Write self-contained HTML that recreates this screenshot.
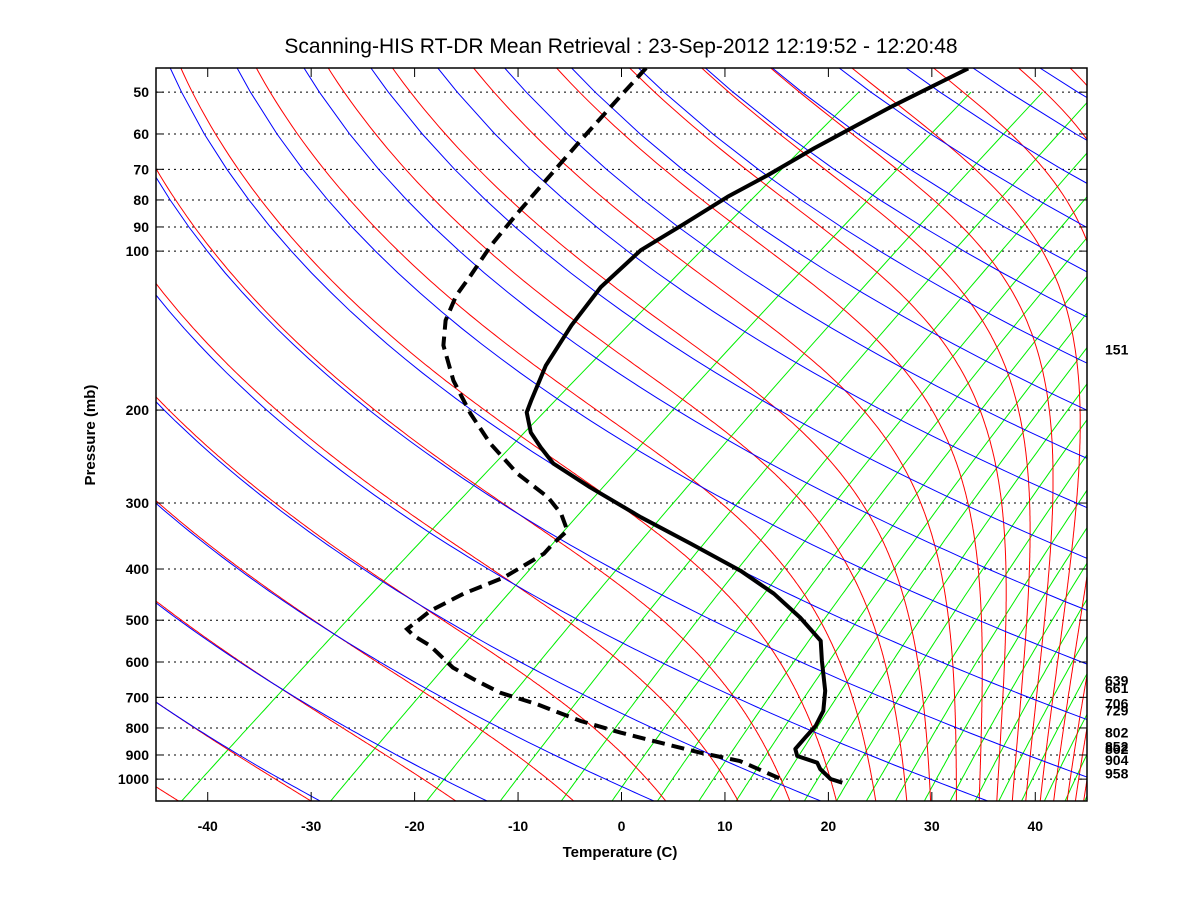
<!DOCTYPE html>
<html><head><meta charset="utf-8"><style>
body{margin:0;background:#fff;}
svg text{font-family:"Liberation Sans",sans-serif;}
</style></head><body>
<svg id="chart" width="1200" height="900" xmlns="http://www.w3.org/2000/svg">
<rect x="0" y="0" width="1200" height="900" fill="#fff"/>
<text x="621" y="53" font-size="21" text-anchor="middle" fill="#000">Scanning-HIS RT-DR Mean Retrieval : 23-Sep-2012 12:19:52 - 12:20:48</text>
<text x="620" y="857" font-size="15" font-weight="bold" text-anchor="middle">Temperature (C)</text>
<text transform="translate(95,435) rotate(-90)" font-size="15" font-weight="bold" text-anchor="middle">Pressure (mb)</text>
<defs><clipPath id="plotclip"><rect x="156" y="68" width="931" height="733"/></clipPath></defs>
<g id="grid"></g>
<g id="lines" clip-path="url(#plotclip)"></g>
<g id="sound" clip-path="url(#plotclip)"></g>
<g id="axes"></g>
</svg>
<script>
// ---- data ----
const pressureTicks=[50,60,70,80,90,100,200,300,400,500,600,700,800,900,1000];
const tempTicks=[-40,-30,-20,-10,0,10,20,30,40];
const dryThetas=[224.5,240.2,255.9,271.6,287.3,303,318.7,334.4,350.1,365.8,381.5,397.2,412.9,428.6,444.3,460,475.7,491.4,507.1,522.8,538.5,554.2];
const moistStartT=[-40,-27.2,-13.2,-1.8,7.1,14.1,19.1,23.6,27.4,30.4,32.7,35.2,37.4,39.1,40.6,41.9,43.3,44.6,45.9,46.7,47.5,48.3,49.1];
const mixStartT=[-39.7,-25.3,-16.0,-8.9,-3.0,1.9,6.3,10.3,13.9,17.2,20.5,23.6,26.5,29.3,32.1,34.6,37.0,39.3,41.5,43.7,45.7,47.6];
const tempP=[45.1,53.3,63.8,71.8,78.9,88.9,99.6,117,138.2,164.6,191.8,202,220.6,235.5,252.6,280.1,319.3,358.1,402.9,445.5,494.1,547,596.9,680.4,742.6,793,834.3,876.6,904,930.8,956.8,999.5,1015.6];
const tempT=[-58.2,-60.7,-62.8,-63.8,-64.9,-65.6,-66.4,-65.5,-63.4,-60.7,-57.6,-56.5,-53.5,-50.6,-47.3,-40.7,-31.9,-23.7,-15.4,-9.2,-3.6,1.4,4.1,8.3,10.7,11.9,12.4,12.9,14.0,16.8,17.9,20.2,21.8];
const dewP=[45,50.6,61.6,73.4,85.5,97.5,111.1,121.3,135.3,150.8,175.8,203,231.4,263.8,292.5,314.2,338.4,358.1,374.1,415,445.5,479.9,519.8,535,559,614.8,645.8,685.8,721.5,775.8,816.4,852.8,891,923.9,1008];
const dewT=[-89.4,-88.3,-86.4,-84.6,-83.0,-81.5,-79.6,-78.4,-76.2,-73.2,-67.7,-61.8,-56.0,-49.5,-43.5,-40.1,-37.3,-37.0,-36.6,-37.4,-39.2,-40.2,-40.1,-38.6,-35.7,-30.7,-27.3,-22.9,-17.8,-11.5,-6.1,-1.0,4.2,9.1,16.1];
const levelLabels=[151,639,661,706,729,802,852,862,904,958];
// ---- axes ----
const L=156,R=1087,T0=68,B=801,PTOP=45,PBOT=1100;
function Y(p){return T0+(B-T0)*Math.log(p/PTOP)/Math.log(PBOT/PTOP);}
function XS(t){return L+(t+45)*(R-L)/90;}
const SKEW=1.335;
function X(t,p){return XS(t)+SKEW*(Y(1000)-Y(p));}
const NS="http://www.w3.org/2000/svg";
function mk(tag,attrs,parent){const e=document.createElementNS(NS,tag);for(const k in attrs)e.setAttribute(k,attrs[k]);parent.appendChild(e);return e;}
const grid=document.getElementById('grid'),lines=document.getElementById('lines'),sound=document.getElementById('sound'),axes=document.getElementById('axes');
function pathFrom(pts){return pts.map((q,i)=>(i?'L':'M')+q[0].toFixed(1)+','+q[1].toFixed(1)).join('');}
// mixing ratio lines
const eps=0.622;
function es(tc){return 6.112*Math.exp(17.67*tc/(tc+243.5));}
mixStartT.forEach((t0,i)=>{
  const e0=es(t0), w=eps*e0/(PBOT-e0);
  const pts=[];
  for(let p=PBOT;p>=PTOP;p-=10){const e=w*p/(eps+w);const l=Math.log(e/6.112);const tc=243.5*l/(17.67-l);pts.push([X(tc,p),Y(p)]);}
  const el=mk('path',{d:pathFrom(pts),fill:'none',stroke:'#00ee00','stroke-width':1},lines);
  
  
});
// moist adiabats
const Rd=287.04,cp=1005.7,Lv=2.501e6;
function dTdp(Tk,p){const e=es(Tk-273.15);const rs=eps*e/(p-e);return (Rd*Tk+Lv*rs)/(p*(cp+Lv*Lv*rs*eps/(Rd*Tk*Tk)));}
moistStartT.forEach(t0=>{
  let Tk=t0+273.15,p=PBOT;const pts=[[X(t0,p),Y(p)]];const dp=-2;
  while(p>PTOP){const k1=dTdp(Tk,p);const k2=dTdp(Tk+k1*dp/2,p+dp/2);Tk+=k2*dp;p+=dp;pts.push([X(Tk-273.15,p),Y(p)]);}
  const el=mk('path',{d:pathFrom(pts),fill:'none',stroke:'#ff0000','stroke-width':1},lines);
  
  
});
// dry adiabats
dryThetas.forEach(th=>{
  const pts=[];
  for(let p=PBOT;p>=PTOP;p-=10){const tk=th*Math.pow(p/1000,0.286);pts.push([X(tk-273.15,p),Y(p)]);}
  pts.push([X(th*Math.pow(PTOP/1000,0.286)-273.15,PTOP),Y(PTOP)]);
  const el=mk('path',{d:pathFrom(pts),fill:'none',stroke:'#0000ff','stroke-width':1},lines);
  
  
});
// pressure grid + ticks
pressureTicks.forEach(p=>{
  const y=Y(p);
  const g=mk('line',{x1:L,x2:R,y1:y,y2:y,stroke:'#000','stroke-width':1,'stroke-dasharray':'2,4'},grid);
  
  
  mk('line',{x1:L,x2:L+8,y1:y,y2:y,stroke:'#000'},axes);
  mk('line',{x1:R-8,x2:R,y1:y,y2:y,stroke:'#000'},axes);
  const t=mk('text',{x:L-7,y:y+5,'font-size':14,'font-weight':'bold','text-anchor':'end'},axes);
  t.textContent=p;
  
  
});
tempTicks.forEach(v=>{
  const x=XS(v);
  mk('line',{x1:x,x2:x,y1:B,y2:B-9,stroke:'#000'},axes);
  mk('line',{x1:x,x2:x,y1:T0,y2:T0+9,stroke:'#000'},axes);
  const t=mk('text',{x:x,y:B+30,'font-size':14,'font-weight':'bold','text-anchor':'middle'},axes);
  t.textContent=v;
  
  
});
const fr=mk('rect',{x:L,y:T0,width:R-L,height:B-T0,fill:'none',stroke:'#000','stroke-width':1.5},axes);


levelLabels.forEach(p=>{
  const t=mk('text',{x:1105,y:Y(p)+9,'font-size':14,'font-weight':'bold'},axes);
  t.textContent=p;
  
  
});
// soundings
const tp=tempP.map((p,i)=>[X(tempT[i],p),Y(p)]);
const tl=mk('path',{d:pathFrom(tp),fill:'none',stroke:'#000','stroke-width':4,'stroke-linejoin':'round'},sound);


const dp=dewP.map((p,i)=>[X(dewT[i],p),Y(p)]);
const dl=mk('path',{d:pathFrom(dp),fill:'none',stroke:'#000','stroke-width':4,'stroke-dasharray':'13,7'},sound);


</script>
</body></html>
